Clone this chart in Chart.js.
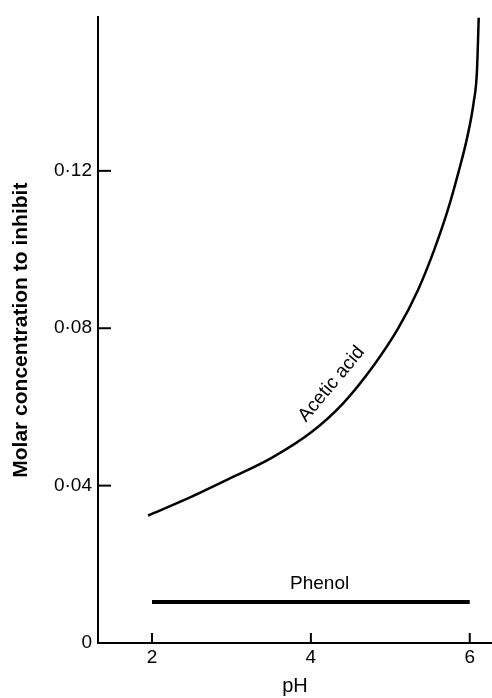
<!DOCTYPE html>
<html>
<head>
<meta charset="utf-8">
<script src="https://cdn.jsdelivr.net/npm/chart.js@4.4.0/dist/chart.umd.min.js"></script>
<style>html,body{margin:0;padding:0;background:#fff}</style>
</head>
<body>
<canvas id="myChart" width="492" height="698"></canvas>
<script>
// values
const phAcetic = [1.95, 2.5, 3.0, 3.5, 4.0, 4.4, 4.8, 5.1, 5.35, 5.55, 5.72, 5.86, 5.97, 6.05, 6.09, 6.113];
const acetic   = [0.0324, 0.0372, 0.0420, 0.0470, 0.0535, 0.0608, 0.0708, 0.0800, 0.0898, 0.0998, 0.1098, 0.1198, 0.1287, 0.1375, 0.1451, 0.159];
const phPhenol = [2, 6];
const phenol   = [0.0104, 0.0104];
const yTicks = [0, 0.04, 0.08, 0.12];
const xTicks = [2, 4, 6];

const toPoints = (xs, ys) => xs.map((v, i) => ({x: v, y: ys[i]}));

const extras = {
    id: 'extras',
    afterDraw(chart) {
        const {ctx, scales: {x, y}} = chart;
        ctx.save();
        ctx.strokeStyle = '#000';
        ctx.lineWidth = 2;
        // inward tick marks
        yTicks.forEach(v => {
            if (v === 0) return;
            const py = y.getPixelForValue(v);
            ctx.beginPath(); ctx.moveTo(x.left, py); ctx.lineTo(x.left + 13, py); ctx.stroke();
        });
        xTicks.forEach(v => {
            const px = x.getPixelForValue(v);
            ctx.beginPath(); ctx.moveTo(px, y.bottom); ctx.lineTo(px, y.bottom - 10); ctx.stroke();
        });
        // curve labels
        ctx.fillStyle = '#000';
        ctx.font = '19px "Liberation Sans"';
        ctx.textAlign = 'center';
        ctx.textBaseline = 'middle';
        ctx.fillText('Phenol', x.getPixelForValue(4.11), y.getPixelForValue(0.015));
        ctx.translate(x.getPixelForValue(4.26), y.getPixelForValue(0.0658));
        ctx.rotate(-50 * Math.PI / 180);
        ctx.fillText('Acetic acid', 0, 0);
        ctx.restore();
    }
};

const ctx = document.getElementById('myChart').getContext('2d');
const myChart = new Chart(ctx, {
    type: 'line',
    data: {
        datasets: [{
            label: 'Acetic acid',
            data: toPoints(phAcetic, acetic),
            borderColor: '#000',
            borderWidth: 2.5,
            pointRadius: 0,
            cubicInterpolationMode: 'monotone',
            fill: false
        }, {
            label: 'Phenol',
            data: toPoints(phPhenol, phenol),
            borderColor: '#000',
            borderWidth: 4,
            pointRadius: 0,
            fill: false
        }]
    },
    options: {
        responsive: false,
        animation: false,
        layout: { padding: { top: 15, right: 0, left: 0, bottom: 0 } },
        scales: {
            x: {
                type: 'linear',
                min: 1.32,
                max: 6.28,
                afterBuildTicks: s => { s.ticks = xTicks.map(v => ({value: v})); },
                afterFit: s => { s.height = 55; },
                grid: { display: false, drawTicks: false },
                border: { color: '#000', width: 2 },
                ticks: {
                    color: '#000',
                    padding: 3,
                    font: { family: 'Liberation Sans', size: 19 }
                },
                title: {
                    display: true,
                    text: 'pH',
                    color: '#000',
                    padding: 0,
                    font: { family: 'Liberation Sans', size: 20 }
                }
            },
            y: {
                min: 0,
                max: 0.159,
                afterBuildTicks: s => { s.ticks = yTicks.map(v => ({value: v})); },
                afterFit: s => { s.width = 98; },
                grid: { display: false, drawTicks: false },
                border: { color: '#000', width: 2 },
                ticks: {
                    color: '#000',
                    padding: 6,
                    font: { family: 'Liberation Sans', size: 19 },
                    callback: v => v === 0 ? '0' : v.toFixed(2).replace('.', '·')
                },
                title: {
                    display: true,
                    text: 'Molar concentration to inhibit',
                    color: '#000',
                    padding: { top: 9, bottom: 0 },
                    font: { family: 'Liberation Sans', size: 21, weight: 'bold' }
                }
            }
        },
        plugins: {
            legend: { display: false },
            tooltip: { enabled: false }
        }
    },
    plugins: [extras]
});
</script>
</body>
</html>
